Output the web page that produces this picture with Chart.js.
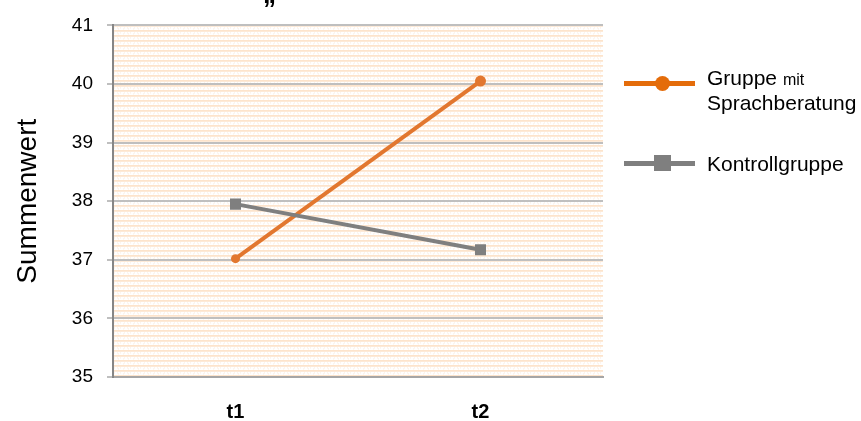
<!DOCTYPE html>
<html>
<head>
<meta charset="utf-8">
<script src="https://cdn.jsdelivr.net/npm/chart.js@4.4.1/dist/chart.umd.min.js"></script>
<style>
html, body { margin: 0; padding: 0; background: #fff; }
#wrap { position: relative; width: 861px; height: 421px; overflow: hidden; font-family: "Liberation Sans", Arial, sans-serif; color: #000; }
#chart { position: absolute; left: 0; top: 0; }
#cut { position: absolute; left: 263px; top: -19px; font: bold 26px/26px "Liberation Sans", Arial, sans-serif; }
.lg-line { position: absolute; left: 624px; width: 71px; height: 5px; }
.lg-mark { position: absolute; }
.lg-text { position: absolute; left: 707px; font-size: 21px; line-height: 23px; white-space: nowrap; }
.lg-text small { font-size: 16px; }
</style>
</head>
<body>
<div id="wrap">
  <canvas id="chart" width="861" height="421"></canvas>
  <span id="cut">„</span>
  <div id="legend"></div>
</div>
<script>
const categories = ["t1", "t2"];
const seriesNames = ["Gruppe mit Sprachberatung", "Kontrollgruppe"];
const gruppeValues = [37.02, 40.05];
const kontrollValues = [37.95, 37.17];
const yTicks = [35, 36, 37, 38, 39, 40, 41];

const orange = "#e2772f";
const orangeLegend = "#e46c0a";
const grey = "#7f7f7f";
const fontFamily = '"Liberation Sans", Arial, sans-serif';

// striped fill of the plot area
const plotPattern = {
    id: 'plotPattern',
    beforeDraw(chart) {
        const {ctx, chartArea: {left, top, width, height}} = chart;
        const tile = document.createElement("canvas");
        tile.width = 10;
        tile.height = 5;
        const t = tile.getContext("2d");
        t.fillStyle = "#fff";
        t.fillRect(0, 0, 10, 5);
        t.fillStyle = "#fcd0a6";
        t.fillRect(0, 0, 10, 1);
        t.fillStyle = "#fbece0";
        for (let x = 1; x < 10; x += 3) t.fillRect(x, 2, 1, 1);
        t.fillRect(0, 3, 1, 1);
        t.fillRect(5, 3, 1, 1);
        ctx.save();
        ctx.translate(left, top);
        ctx.fillStyle = ctx.createPattern(tile, "repeat");
        ctx.fillRect(0, 0, width, height);
        ctx.restore();
    }
};

new Chart(document.getElementById("chart"), {
    type: 'line',
    data: {
        labels: categories,
        datasets: [{
            label: seriesNames[0],
            data: gruppeValues,
            borderColor: orange,
            borderWidth: 4,
            tension: 0,
            fill: false,
            pointStyle: 'circle',
            pointRadius: [4.5, 5.5],
            pointBorderWidth: 0,
            pointBackgroundColor: orange,
            order: 1
        }, {
            label: seriesNames[1],
            data: kontrollValues,
            borderColor: grey,
            borderWidth: 4,
            tension: 0,
            fill: false,
            pointStyle: 'rect',
            pointRadius: 7.8,
            pointBorderWidth: 0,
            pointBackgroundColor: grey,
            order: 0
        }]
    },
    options: {
        responsive: false,
        animation: false,
        layout: { padding: { top: 23, right: 258, left: 0, bottom: 0 } },
        scales: {
            x: {
                offset: true,
                grid: { display: false, drawTicks: false },
                border: { display: true, color: "#a6a6a6", width: 2 },
                ticks: { color: "#000", padding: 23, font: { family: fontFamily, size: 20, weight: 'bold' } },
                afterFit(scale) { scale.height = 44; }
            },
            y: {
                min: 35,
                max: 41,
                afterBuildTicks(scale) { scale.ticks = yTicks.map(v => ({ value: v })); },
                grid: { color: "#bfbfbf", lineWidth: 2, tickLength: 6 },
                border: { color: "#868686", width: 2 },
                ticks: { color: "#000", padding: 14, font: { family: fontFamily, size: 19 } },
                title: { display: true, text: "Summenwert", color: "#000", padding: { top: 11, bottom: 0 }, font: { family: fontFamily, size: 28 } },
                afterFit(scale) { scale.width = 113; }
            }
        },
        plugins: {
            legend: { display: false },
            tooltip: { enabled: false }
        }
    },
    plugins: [plotPattern]
});

function addLegend() {
    const legend = document.getElementById("legend");
    legend.innerHTML = `
        <div class="lg-line" style="top:81px;background:${orangeLegend}"></div>
        <div class="lg-mark" style="left:655px;top:76px;width:15px;height:15px;border-radius:50%;background:${orangeLegend}"></div>
        <div class="lg-text" style="top:66px">Gruppe <small>mit</small><br>Sprachberatung</div>
        <div class="lg-line" style="top:161px;background:${grey}"></div>
        <div class="lg-mark" style="left:654px;top:155px;width:17px;height:16px;background:${grey}"></div>
        <div class="lg-text" style="top:152px">${seriesNames[1]}</div>
    `;
}

addLegend();
</script>
</body>
</html>
